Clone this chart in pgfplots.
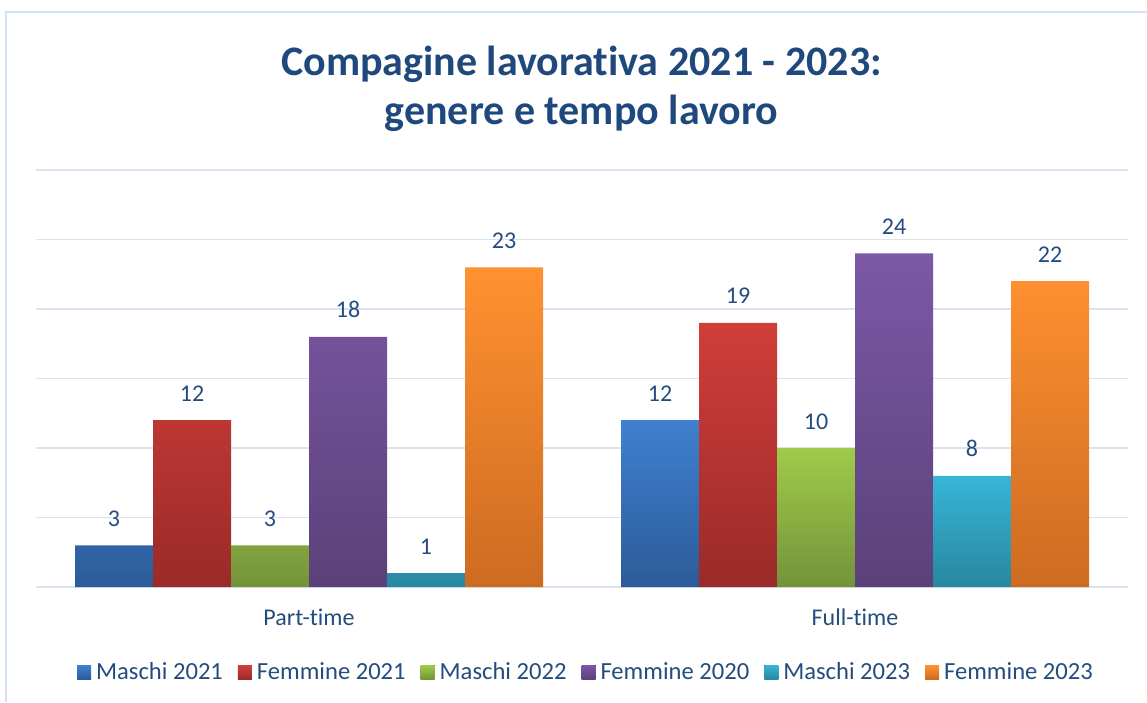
\documentclass[border=0pt]{standalone}
\usepackage{pgfplots}
\pgfplotsset{compat=1.18}
\usepackage{fontspec}
\setmainfont{Carlito}[Ligatures={NoCommon,NoContextual}]
\definecolor{txt}{HTML}{254C7E}
\definecolor{ttl}{HTML}{1F497D}
\definecolor{grd}{HTML}{D9E3F1}
\definecolor{brd}{HTML}{D3E2F4}
\definecolor{aT}{HTML}{3F80D0}\definecolor{aB}{HTML}{2C5B98}
\definecolor{bT}{HTML}{D03E3A}\definecolor{bB}{HTML}{9A2A29}
\definecolor{cT}{HTML}{9FCB4A}\definecolor{cB}{HTML}{74933A}
\definecolor{dT}{HTML}{7C58A6}\definecolor{dB}{HTML}{5B417A}
\definecolor{eT}{HTML}{37B5D7}\definecolor{eB}{HTML}{28879F}
\definecolor{fT}{HTML}{FF9131}\definecolor{fB}{HTML}{CD6B21}
\begin{document}
\begin{tikzpicture}[x=1bp,y=1bp]
\useasboundingbox (0,0) rectangle (573.5,351);
\draw[brd, line width=1.2bp] (3,0) -- (3,345) -- (573.5,345);
\node[anchor=base, text=ttl, font=\fontsize{21bp}{25bp}\selectfont\bfseries] at (290.75,313.5) {Compagine lavorativa 2021 - 2023:};
\node[anchor=base, text=ttl, font=\fontsize{21bp}{25bp}\selectfont\bfseries] at (290.75,289) {genere e tempo lavoro};
\begin{axis}[
  at={(18bp,57.5bp)}, anchor=south west, scale only axis,
  width=546bp, height=208.5bp,
  xmin=-0.5, xmax=1.5, ymin=0, ymax=30,
  ytick={0,5,...,30}, yticklabels={},
  ymajorgrids, grid style={grd, line width=0.9bp},
  axis line style={draw=none}, major tick length=0pt,
  xtick=data, xticklabels={Part-time,Full-time},
  xticklabel style={anchor=base, yshift=-19bp, text=txt, font=\fontsize{12bp}{14bp}\selectfont},
  ybar=0pt, bar width=39bp,
  /pgf/number format/assume math mode=true,
  nodes near coords,
  every node near coord/.append style={anchor=base, yshift=9.5bp, text=txt, font=\fontsize{12bp}{14bp}\selectfont},
  legend columns=6,
  legend style={at={(0.505,-0.2045)}, anchor=center, draw=none, fill=none,
    font=\fontsize{12.3bp}{14bp}\selectfont, text=txt,
    /tikz/every even column/.append style={column sep=5bp},
    nodes={inner xsep=2.5bp}},
  legend image code/.code={\fill[#1] (0bp,-3.5bp) rectangle (7bp,3.5bp);},
]
\addplot[draw=none, top color=aT, bottom color=aB] coordinates {(0,3) (1,12)};
\addplot[draw=none, top color=bT, bottom color=bB] coordinates {(0,12) (1,19)};
\addplot[draw=none, top color=cT, bottom color=cB] coordinates {(0,3) (1,10)};
\addplot[draw=none, top color=dT, bottom color=dB] coordinates {(0,18) (1,24)};
\addplot[draw=none, top color=eT, bottom color=eB] coordinates {(0,1) (1,8)};
\addplot[draw=none, top color=fT, bottom color=fB] coordinates {(0,23) (1,22)};
\legend{Maschi 2021, Femmine 2021, Maschi 2022, Femmine 2020, Maschi 2023, Femmine 2023}
\end{axis}
\end{tikzpicture}
\end{document}
